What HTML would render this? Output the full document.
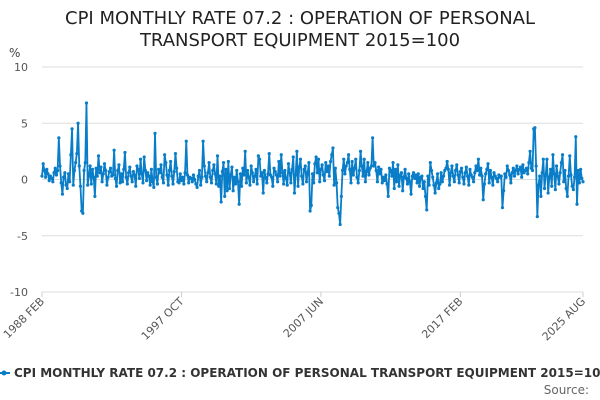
<!DOCTYPE html>
<html><head><meta charset="utf-8"><style>
body{margin:0;background:#fff;font-family:"DejaVu Sans","Liberation Sans",sans-serif;}
svg{display:block;font-family:"DejaVu Sans","Liberation Sans",sans-serif;}
</style></head><body>
<svg id="chart" width="600" height="400">
<text x="300" y="24" text-anchor="middle" font-size="18" fill="#222">CPI MONTHLY RATE 07.2 : OPERATION OF PERSONAL</text>
<text x="300" y="46" text-anchor="middle" font-size="18" fill="#222">TRANSPORT EQUIPMENT 2015=100</text>
<text x="9" y="57" font-size="12" fill="#444">%</text>
<g id="grid"></g><g id="xt"></g><g id="series"></g>
<g>
<line x1="0" y1="373" x2="10" y2="373" stroke="#0a7dc8" stroke-width="2"/>
<circle cx="4" cy="373" r="2.5" fill="#0a7dc8"/>
<text x="14" y="377" font-size="12" font-weight="bold" fill="#333">CPI MONTHLY RATE 07.2 : OPERATION OF PERSONAL TRANSPORT EQUIPMENT 2015=100</text>
</g>
<text x="589" y="394" text-anchor="end" font-size="12" fill="#666">Source:</text>
</svg>
<script>
const yTicks=[10,5,0,-5,-10];
const xTickLabels=["1988 FEB","1997 OCT","2007 JUN","2017 FEB","2025 AUG"];
const xTickIndex=[0,116,232,348,450];
const values=[
0.3,1.4,0.8,0.2,0.9,0.5,-0.1,0.3,0.1,-0.2,0.6,
1.0,0.4,0.8,3.7,1.2,-0.3,-1.3,0.2,0.6,-0.5,-0.8,0.5,
-0.2,2.2,4.5,-0.5,0.8,1.5,2.3,5.0,1.2,-0.6,-2.8,-3.0,
0.8,1.5,6.8,-0.5,0.3,1.2,-0.4,0.9,0.2,-1.5,1.0,0.3,
2.1,0.6,1.1,-0.2,0.5,1.4,0.8,-0.5,0.2,0.7,1.0,0.3,
0.4,2.6,0.1,-0.6,0.8,1.3,-0.3,0.5,-0.2,0.9,2.4,0.2,
-0.4,0.6,1.1,0.3,-0.2,0.7,0.4,-0.6,1.2,0.9,0.1,1.8,
0.5,-0.3,2.0,0.8,-0.1,0.6,0.3,-0.5,0.9,-0.2,-0.7,4.1,
0.2,-0.4,0.9,0.6,1.3,0.2,-0.3,2.2,1.5,0.4,-0.5,0.8,
1.6,0.3,-0.4,0.7,2.3,1.0,-0.2,-0.3,0.5,-0.1,0.2,-0.4,
0.6,3.4,0.4,-0.3,0.2,0.1,-0.2,0.4,0.0,-0.4,-0.7,0.3,
0.8,-0.5,0.2,3.4,1.2,0.3,-0.2,0.6,1.5,0.2,-0.3,0.8,
1.3,0.5,-0.4,2.1,-0.6,0.3,-2.0,0.7,1.5,-1.5,0.9,-1.0,
1.6,-0.8,0.4,1.1,-1.0,0.2,-0.4,0.8,-0.2,-2.2,0.5,-0.6,
1.0,0.4,2.5,-0.3,0.8,0.2,-0.5,1.2,0.6,-0.2,0.3,0.9,
-0.4,2.1,1.8,0.3,0.6,-1.2,0.8,0.2,-0.3,0.5,2.3,0.4,
0.2,-0.6,1.0,0.7,0.4,-0.2,1.6,0.3,2.2,0.6,-0.4,0.8,
0.1,-0.5,1.4,0.6,-0.3,0.9,2.0,-1.2,0.4,2.5,-0.6,1.1,
1.8,0.3,-0.4,0.9,1.2,-0.2,0.6,1.5,-2.8,-2.3,0.5,-0.3,
1.4,2.0,0.6,1.8,-0.2,0.9,1.3,0.4,-0.1,1.5,0.7,1.2,
0.3,1.6,2.2,2.8,-0.5,1.0,-0.3,-2.5,-3.0,-4.0,-1.5,0.8,
1.8,0.5,1.2,1.5,2.2,0.9,-0.3,1.6,0.4,1.0,1.8,0.2,
-0.3,0.8,2.5,1.2,0.3,1.8,-0.2,0.7,1.5,0.4,1.0,1.2,
3.7,1.2,1.5,0.8,-0.2,1.1,0.5,0.9,-0.3,0.2,-0.1,0.4,
-0.4,-1.5,1.0,0.8,0.3,1.5,-0.8,0.9,-0.2,1.3,-0.6,0.4,
0.6,-1.0,0.2,0.9,0.1,-0.4,0.5,-0.2,-1.3,0.3,0.6,0.1,
0.4,-0.3,0.5,-0.6,0.2,0.3,-0.8,-0.2,-1.5,-2.7,0.3,-0.5,
1.5,0.8,0.2,-0.5,-1.2,-0.3,0.5,-0.8,-0.4,0.6,-0.2,0.3,
0.8,1.0,1.6,0.9,-0.5,0.6,1.2,0.3,-0.2,0.8,1.3,0.4,
-0.3,0.7,1.0,0.2,-0.4,0.6,1.1,0.3,-0.5,0.9,0.4,0.2,
-0.2,0.6,1.2,0.8,1.8,0.4,1.0,0.3,-1.8,-0.4,0.5,0.9,
1.4,-0.3,0.8,0.2,-0.5,0.6,0.3,0.1,-0.2,0.4,0.2,0.3,
-2.5,-1.0,0.5,0.2,1.2,0.8,0.4,-0.3,0.6,1.0,0.3,0.8,
1.2,0.5,0.9,1.1,0.2,1.3,0.6,0.8,1.0,0.5,1.5,2.5,
1.0,0.8,4.5,4.6,1.2,-3.3,-0.5,0.3,-1.5,0.6,1.8,-0.8,
0.4,1.8,-1.2,0.2,0.9,-0.6,2.2,0.5,-0.9,1.2,0.3,-0.4,
0.6,1.5,2.2,-0.2,0.8,-0.8,-1.5,0.3,2.1,0.4,-0.6,-0.9,
0.2,3.8,-2.2,0.8,-0.3,0.9,0.1,-0.2
];
const NS="http://www.w3.org/2000/svg";
const X0=42,X1=583,Y0=292,Y1=67;
const n=values.length;
function xs(i){return X0+(X1-X0)*i/(n-1);}
function ys(v){return Y0-(v+10)/20*(Y0-Y1);}
function mk(t,a){const e=document.createElementNS(NS,t);for(const k in a)e.setAttribute(k,a[k]);return e;}
const grid=document.getElementById('grid');
yTicks.forEach(t=>{
  const l=mk('line',{x1:X0,x2:X1,y1:ys(t),y2:ys(t),stroke:'#ddd','stroke-width':1});
  
  
  grid.appendChild(l);
  const tx=mk('text',{x:28,y:ys(t)+4,'text-anchor':'end','font-size':11,fill:'#555'});
  tx.textContent=t;
  
  
  grid.appendChild(tx);
});
const xt=document.getElementById('xt');
xTickLabels.forEach((lab,k)=>{
  const x=xs(xTickIndex[k]);
  const tk=mk('line',{x1:x,x2:x,y1:Y0,y2:Y0+5,stroke:'#ccc'});
  
  
  xt.appendChild(tk);
  const tx=mk('text',{x:x+3,y:Y0+10,'text-anchor':'end','font-size':11,fill:'#555',transform:`rotate(-45 ${x+3} ${Y0+10})`});
  tx.textContent=lab;
  
  
  xt.appendChild(tx);
});
const g=document.getElementById('series');
let d='';
values.forEach((v,i)=>{d+=(i?'L':'M')+xs(i).toFixed(2)+' '+ys(v).toFixed(2);});
const p=mk('path',{d:d,fill:'none',stroke:'#0a7dc8','stroke-width':1.8,'stroke-linejoin':'round'});


g.appendChild(p);
values.forEach((v,i)=>{
  const c=mk('circle',{cx:xs(i),cy:ys(v),r:1.6,fill:'#0a7dc8'});
  
  
  g.appendChild(c);
});
</script>
</body></html>
